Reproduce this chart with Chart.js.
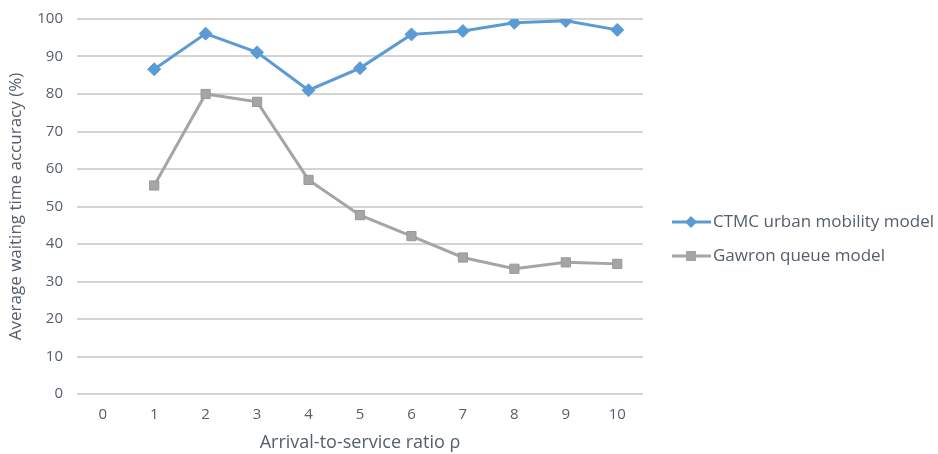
<!DOCTYPE html>
<html>
<head>
<meta charset="utf-8">
<script src="https://cdn.jsdelivr.net/npm/chart.js@4"></script>
<style>
  html, body { margin: 0; padding: 0; background: #fff; }
  #wrap { width: 938px; height: 454px; }
</style>
</head>
<body>
<div id="wrap"><canvas id="myChart" width="938" height="454"></canvas></div>
<script>
const ratios = ["0", "1", "2", "3", "4", "5", "6", "7", "8", "9", "10"];
const ctmcAccuracy = [null, 86.6, 96.1, 91.1, 81.0, 86.9, 95.9, 96.8, 99.0, 99.5, 97.1];
const gawronAccuracy = [null, 55.6, 80.0, 77.9, 57.1, 47.7, 42.1, 36.4, 33.4, 35.1, 34.7];
const yTicks = [0, 10, 20, 30, 40, 50, 60, 70, 80, 90, 100];

const blueColor = "#5b9bd5";
const grayColor = "#a5a5a5";
const textColor = "#555e6b";
const fontFamily = "'Open Sans', 'Noto Sans', sans-serif";

// legend drawn by hand so the sample shows line + marker like Excel
const sideLegend = {
  id: "sideLegend",
  afterDraw(chart) {
    const c = chart.ctx;
    const items = chart.data.datasets;
    c.save();
    items.forEach((ds, i) => {
      const y = 222 + i * 34;
      c.strokeStyle = ds.borderColor;
      c.lineWidth = 3;
      c.beginPath();
      c.moveTo(672, y);
      c.lineTo(711, y);
      c.stroke();
      c.fillStyle = ds.pointBackgroundColor;
      c.beginPath();
      if (ds.pointStyle === "rectRot") {
        c.moveTo(691, y - 6);
        c.lineTo(697, y);
        c.lineTo(691, y + 6);
        c.lineTo(685, y);
      } else {
        c.rect(686, y - 5, 10, 10);
      }
      c.closePath();
      c.fill();
      c.fillStyle = textColor;
      c.font = "17px " + fontFamily;
      c.textBaseline = "middle";
      c.fillText(ds.label, 713, y);
    });
    c.restore();
  },
};

const ctx = document.getElementById("myChart");
new Chart(ctx, {
  type: "line",
  data: {
    labels: ratios,
    datasets: [
      {
        label: "CTMC urban mobility model",
        data: ctmcAccuracy,
        borderColor: blueColor,
        backgroundColor: blueColor,
        pointBackgroundColor: blueColor,
        pointBorderColor: blueColor,
        borderWidth: 3,
        pointStyle: "rectRot",
        pointRadius: 6.5,
        pointBorderWidth: 1,
        tension: 0,
      },
      {
        label: "Gawron queue model",
        data: gawronAccuracy,
        borderColor: grayColor,
        backgroundColor: grayColor,
        pointBackgroundColor: grayColor,
        pointBorderColor: "#999999",
        borderWidth: 3,
        pointStyle: "rect",
        pointRadius: 6.5,
        pointBorderWidth: 1,
        tension: 0,
      },
    ],
  },
  options: {
    responsive: false,
    animation: false,
    layout: { padding: { top: 19, right: 295, left: 6, bottom: 0 } },
    plugins: {
      legend: { display: false },
      tooltip: { enabled: false },
    },
    scales: {
      x: {
        offset: true,
        grid: { display: false, drawTicks: false },
        border: { display: false },
        ticks: { color: textColor, font: { family: fontFamily, size: 15 }, padding: 12 },
        title: {
          display: true,
          text: "Arrival-to-service ratio ρ",
          color: textColor,
          font: { family: fontFamily, size: 18 },
          padding: { top: 4, bottom: 0 },
        },
        afterFit: (scale) => { scale.height = 60; },
      },
      y: {
        min: 0,
        max: 100,
        afterBuildTicks: (scale) => {
          scale.ticks = yTicks.map((v) => ({ value: v }));
        },
        grid: { color: "#d4d4d4", lineWidth: 2, drawTicks: false },
        border: { display: false },
        ticks: { color: textColor, font: { family: fontFamily, size: 15 }, padding: 14 },
        title: {
          display: true,
          text: "Average waiting time accuracy (%)",
          color: textColor,
          font: { family: fontFamily, size: 17 },
          padding: { top: 0, bottom: 6 },
        },
        afterFit: (scale) => {
          scale.width = 71;
          scale.paddingTop = 0;
          scale.paddingBottom = 0;
        },
      },
    },
  },
  plugins: [sideLegend],
});
</script>
</body>
</html>
